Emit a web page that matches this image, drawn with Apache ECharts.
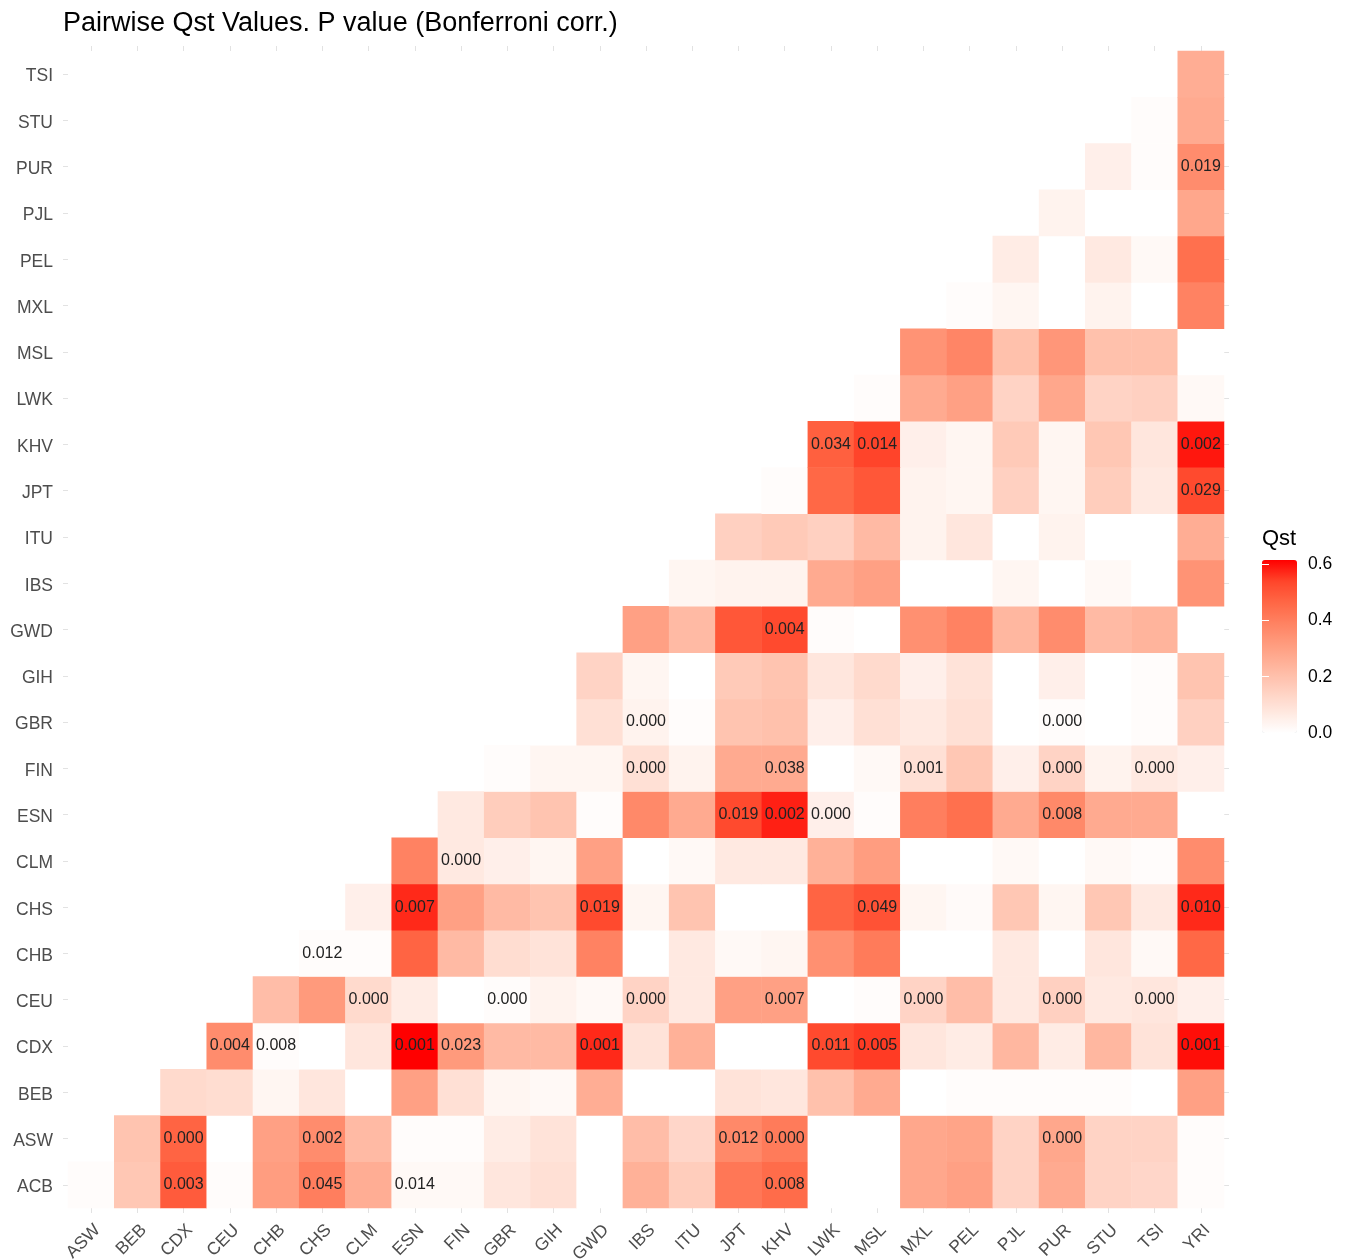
<!DOCTYPE html>
<html><head><meta charset="utf-8">
<script src="https://cdn.jsdelivr.net/npm/echarts@6/dist/echarts.min.js"></script>
<style>html,body{margin:0;padding:0;background:#fff}#c{width:1347px;height:1260px}</style>
</head><body><div id="c"></div>
<script>
const xCats = ['ASW','BEB','CDX','CEU','CHB','CHS','CLM','ESN','FIN','GBR','GIH','GWD','IBS','ITU','JPT','KHV','LWK','MSL','MXL','PEL','PJL','PUR','STU','TSI','YRI'];
const yCats = ['ACB','ASW','BEB','CDX','CEU','CHB','CHS','CLM','ESN','FIN','GBR','GIH','GWD','IBS','ITU','JPT','KHV','LWK','MSL','MXL','PEL','PJL','PUR','STU','TSI'];
const legendTicks = [0, 0.2, 0.4, 0.6];

// Qst per row (y category); each row starts at the x category with the same index
const qstACB = [0.01,0.18,0.49,0.01,0.31,0.40,0.26,0.02,0.02,0.08,0.10,0.00,0.25,0.16,0.42,0.45,0.00,0.00,0.28,0.30,0.14,0.27,0.14,0.13,0.01];
const qstASW = [0.19,0.47,0.00,0.30,0.36,0.22,0.01,0.01,0.06,0.09,0.00,0.21,0.13,0.37,0.41,0.00,0.00,0.28,0.29,0.14,0.28,0.14,0.14,0.01];
const qstBEB = [0.12,0.11,0.03,0.08,0.00,0.30,0.10,0.03,0.02,0.26,0.00,0.00,0.09,0.08,0.20,0.27,0.00,0.01,0.01,0.01,0.01,0.00,0.30];
const qstCDX = [0.36,0.01,0.00,0.08,0.615,0.32,0.22,0.22,0.57,0.09,0.25,0.00,0.00,0.53,0.55,0.08,0.06,0.23,0.06,0.23,0.09,0.60];
const qstCEU = [0.21,0.32,0.12,0.06,0.00,0.01,0.04,0.02,0.14,0.07,0.30,0.30,0.00,0.01,0.14,0.21,0.07,0.15,0.07,0.08,0.05];
const qstCHB = [0.01,0.01,0.47,0.22,0.11,0.09,0.39,0.00,0.07,0.02,0.03,0.35,0.41,0.00,0.00,0.07,0.00,0.08,0.02,0.46];
const qstCHS = [0.05,0.57,0.30,0.22,0.19,0.53,0.03,0.19,0.00,0.00,0.47,0.51,0.03,0.015,0.18,0.03,0.18,0.07,0.57];
const qstCLM = [0.39,0.07,0.05,0.03,0.30,0.00,0.02,0.07,0.07,0.25,0.31,0.00,0.00,0.02,0.00,0.02,0.01,0.36];
const qstESN = [0.07,0.16,0.19,0.01,0.37,0.27,0.53,0.58,0.05,0.01,0.40,0.44,0.27,0.37,0.27,0.27,0.00];
const qstFIN = [0.01,0.03,0.03,0.10,0.04,0.27,0.27,0.00,0.02,0.10,0.18,0.05,0.14,0.04,0.07,0.05];
const qstGBR = [0.00,0.10,0.04,0.01,0.19,0.20,0.05,0.10,0.07,0.10,0.00,0.01,0.00,0.01,0.15];
const qstGIH = [0.14,0.03,0.00,0.17,0.19,0.08,0.12,0.05,0.09,0.00,0.05,0.00,0.01,0.19];
const qstGWD = [0.30,0.22,0.50,0.53,0.01,0.00,0.35,0.39,0.23,0.36,0.22,0.24,0.00];
const qstIBS = [0.03,0.04,0.04,0.27,0.30,0.00,0.00,0.03,0.00,0.02,0.00,0.34];
const qstITU = [0.15,0.17,0.15,0.22,0.04,0.08,0.00,0.04,0.00,0.00,0.26];
const qstJPT = [0.01,0.46,0.50,0.04,0.03,0.15,0.03,0.16,0.07,0.53];
const qstKHV = [0.48,0.54,0.05,0.03,0.17,0.03,0.18,0.08,0.59];
const qstLWK = [0.01,0.27,0.30,0.14,0.28,0.14,0.15,0.02];
const qstMSL = [0.34,0.38,0.20,0.33,0.20,0.20,0.00];
const qstMXL = [0.01,0.03,0.00,0.04,0.00,0.39];
const qstPEL = [0.06,0.00,0.07,0.02,0.44];
const qstPJL = [0.04,0.00,0.00,0.28];
const qstPUR = [0.05,0.01,0.36];
const qstSTU = [0.01,0.27];
const qstTSI = [0.26];

// P value labels: [row (y), column (x), text]
const pLabels = [
  ['ACB','CDX','0.003'],['ACB','CHS','0.045'],['ACB','ESN','0.014'],['ACB','KHV','0.008'],
  ['ASW','CDX','0.000'],['ASW','CHS','0.002'],['ASW','JPT','0.012'],['ASW','KHV','0.000'],['ASW','PUR','0.000'],
  ['CDX','CEU','0.004'],['CDX','CHB','0.008'],['CDX','ESN','0.001'],['CDX','FIN','0.023'],['CDX','GWD','0.001'],['CDX','LWK','0.011'],['CDX','MSL','0.005'],['CDX','YRI','0.001'],
  ['CEU','CLM','0.000'],['CEU','GBR','0.000'],['CEU','IBS','0.000'],['CEU','KHV','0.007'],['CEU','MXL','0.000'],['CEU','PUR','0.000'],['CEU','TSI','0.000'],
  ['CHB','CHS','0.012'],
  ['CHS','ESN','0.007'],['CHS','GWD','0.019'],['CHS','MSL','0.049'],['CHS','YRI','0.010'],
  ['CLM','FIN','0.000'],
  ['ESN','JPT','0.019'],['ESN','KHV','0.002'],['ESN','LWK','0.000'],['ESN','PUR','0.008'],
  ['FIN','IBS','0.000'],['FIN','KHV','0.038'],['FIN','MXL','0.001'],['FIN','PUR','0.000'],['FIN','TSI','0.000'],
  ['GBR','IBS','0.000'],['GBR','PUR','0.000'],
  ['GWD','KHV','0.004'],
  ['JPT','YRI','0.029'],
  ['KHV','LWK','0.034'],['KHV','MSL','0.014'],['KHV','YRI','0.002'],
  ['PUR','YRI','0.019']
];

const rows = [qstACB,qstASW,qstBEB,qstCDX,qstCEU,qstCHB,qstCHS,qstCLM,qstESN,qstFIN,qstGBR,qstGIH,qstGWD,qstIBS,qstITU,qstJPT,qstKHV,qstLWK,qstMSL,qstMXL,qstPEL,qstPJL,qstPUR,qstSTU,qstTSI];

const labelMap = {};
pLabels.forEach(([r, c, t]) => { labelMap[xCats.indexOf(c) + '|' + yCats.indexOf(r)] = t; });

const data = [];
rows.forEach((row, yi) => {
  row.forEach((v, k) => { data.push([yi + k, yi, v]); });
});

// white -> red, interpolated in Lab (as ggplot does)
const scaleColors = ['#FFFFFF','#FFE7DE','#FFCFBF','#FFB7A0','#FF9E81','#FF8464','#FF6846','#FF462B','#FF0000'];
const font = 'Liberation Sans';
const tickStyle = {show:true, alignWithLabel:true, length:5, lineStyle:{color:'#e2e2e2', width:1}};

const chart = echarts.init(document.getElementById('c'), null, {renderer:'canvas'});
chart.setOption({
  backgroundColor:'#ffffff',
  animation:false,
  title:{text:'Pairwise Qst Values. P value (Bonferroni corr.)', left:58, top:5,
    textStyle:{fontFamily:font, fontSize:27, fontWeight:'normal', color:'#000'}},
  grid:[
    {left:68, top:51, width:1156, height:1157, outerBoundsMode:'none', containLabel:false},
    {left:1262, top:560, width:35, height:173, outerBoundsMode:'none', containLabel:false}
  ],
  xAxis:[
    {type:'category', data:xCats, gridIndex:0, position:'bottom', axisLine:{show:false}, axisTick:tickStyle,
     axisLabel:{rotate:45, margin:13, verticalAlign:'top', fontSize:17.5, color:'#4d4d4d', fontFamily:font}, splitLine:{show:false}},
    {type:'category', data:xCats, gridIndex:0, position:'top', axisLine:{show:false}, axisTick:tickStyle,
     axisLabel:{show:false}, splitLine:{show:false}},
    {type:'value', gridIndex:1, show:false, min:0, max:1}
  ],
  yAxis:[
    {type:'category', data:yCats, gridIndex:0, position:'left', axisLine:{show:false}, axisTick:tickStyle,
     axisLabel:{margin:15, formatter:v => '{a|' + v + '}',
       rich:{a:{fontSize:17.5, color:'#4d4d4d', fontFamily:font, padding:[5,0,0,0]}}}, splitLine:{show:false}},
    {type:'category', data:yCats, gridIndex:0, position:'right', axisLine:{show:false}, axisTick:tickStyle,
     axisLabel:{show:false}, splitLine:{show:false}},
    {type:'value', gridIndex:1, min:0, max:0.615, position:'right', z:10, axisLine:{show:false},
     axisTick:{show:true, inside:true, length:7, lineStyle:{color:'#ffffff', width:1}, customValues:legendTicks},
     axisLabel:{customValues:legendTicks, formatter:v => v.toFixed(1), margin:11, padding:[5,0,0,0], fontSize:17.5, color:'#000', fontFamily:font},
     splitLine:{show:false}},
    {type:'value', gridIndex:1, min:0, max:0.615, position:'left', z:10, axisLine:{show:false},
     axisTick:{show:true, inside:true, length:7, lineStyle:{color:'#ffffff', width:1}, customValues:legendTicks},
     axisLabel:{show:false}, splitLine:{show:false}}
  ],
  visualMap:{type:'continuous', seriesIndex:0, dimension:2, min:0, max:0.615, calculable:false, show:true,
    orient:'vertical', left:1262, top:560, itemWidth:35, itemHeight:173, padding:0, text:null,
    inRange:{color:scaleColors}, z:2},
  graphic:[{type:'text', left:1262, top:528, style:{text:'Qst', fontSize:22, fill:'#000', fontFamily:font}}],
  series:[{
    type:'heatmap', xAxisIndex:0, yAxisIndex:0, data:data,
    label:{show:true, fontSize:16, color:'#222', fontFamily:font,
      formatter:p => labelMap[p.data[0] + '|' + p.data[1]] || ''},
    itemStyle:{borderWidth:0},
    emphasis:{disabled:true}
  }]
});
</script></body></html>
